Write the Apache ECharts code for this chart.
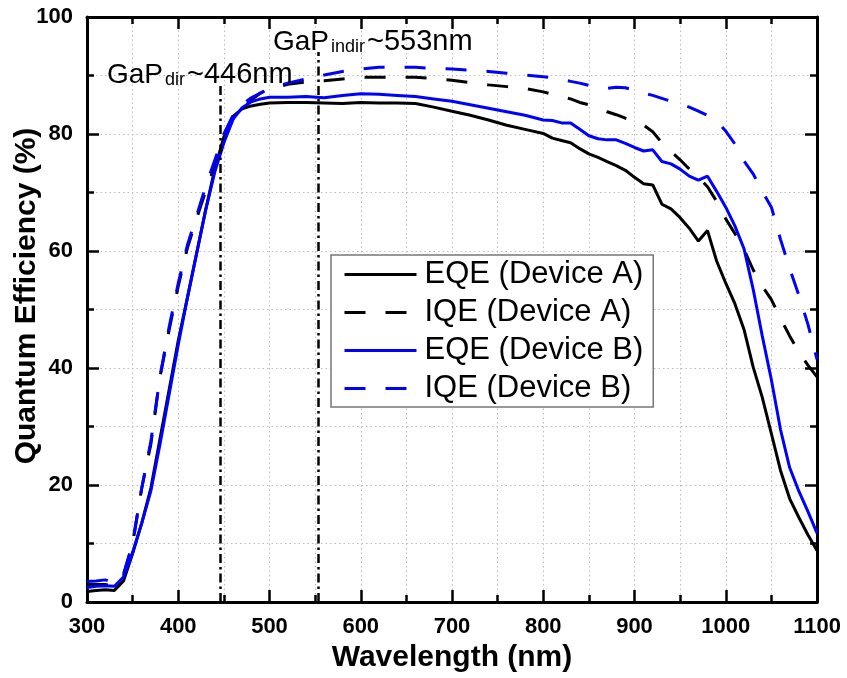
<!DOCTYPE html>
<html>
<head>
<meta charset="utf-8">
<script src="https://cdn.jsdelivr.net/npm/echarts@6/dist/echarts.min.js"></script>
<style>
  html, body { margin: 0; padding: 0; background: #fff; }
  #chart { width: 847px; height: 678px; }
</style>
</head>
<body>
<div id="chart"></div>
<script>
// Wavelength grid (nm)
const wavelength = [
  300,310,320,330,340,350,360,370,380,390,400,410,420,430,440,450,460,470,480,490,500,
  520,540,560,580,600,620,640,660,680,700,720,740,760,780,800,
  810,820,830,840,850,860,870,880,890,900,910,920,930,940,950,960,970,980,990,1000,
  1010,1020,1030,1040,1050,1060,1070,1080,1090,1100
];

// Quantum efficiency (%) for each device
const eqeDeviceA = [
  1.8,2.0,2.1,2.0,3.6,8.3,13.5,19.5,27.9,36.3,44.7,52.0,59.5,67.0,74.0,79.5,83.0,84.3,84.8,85.1,85.3,
  85.4,85.4,85.3,85.2,85.4,85.3,85.3,85.2,84.6,83.9,83.2,82.4,81.5,80.8,80.1,
  79.3,78.9,78.5,77.5,76.6,76.0,75.3,74.6,73.8,72.6,71.5,71.3,68.0,67.2,65.7,63.9,61.7,63.5,58.3,54.5,
  51.0,46.6,40.2,35.0,28.8,22.5,17.7,14.5,11.5,8.8
];
const iqeDeviceA = [
  3.0,3.0,3.0,2.8,4.5,10.0,19.5,27.0,38.5,46.5,54.0,60.5,65.5,70.2,74.6,79.2,82.6,84.3,85.8,87.0,87.7,
  88.5,88.9,89.1,89.4,89.7,89.7,89.7,89.7,89.5,89.2,88.8,88.4,88.1,87.8,87.2,
  86.8,86.4,86.0,85.4,85.0,84.4,83.8,83.3,82.7,82.2,81.5,80.4,78.5,77.0,75.6,74.0,72.6,71.0,68.5,65.5,
  63.0,60.3,56.8,54.0,51.7,48.5,45.5,42.8,40.5,38.5
];
const eqeDeviceB = [
  2.5,2.7,2.8,2.7,4.3,8.5,13.5,19.0,27.0,35.5,44.0,52.0,59.5,67.0,73.5,78.5,82.5,84.5,85.5,86.0,86.3,
  86.3,86.4,86.2,86.6,86.9,86.8,86.6,86.4,86.0,85.6,85.0,84.4,83.8,83.2,82.4,
  82.3,81.9,81.9,80.8,79.7,79.2,79.0,79.0,78.4,77.7,77.1,77.3,75.3,74.9,74.0,72.8,72.1,72.8,70.2,67.5,
  64.3,60.4,53.5,45.5,38.0,29.5,23.0,19.0,15.5,11.8
];
const iqeDeviceB = [
  3.5,3.6,3.8,3.3,4.8,10.0,19.5,27.5,38.5,47.0,54.5,61.0,66.0,71.0,75.5,80.0,83.2,85.0,86.2,87.0,87.8,
  88.7,89.4,90.1,90.7,91.1,91.4,91.4,91.4,91.2,91.1,90.9,90.7,90.4,90.1,89.8,
  89.6,89.3,89.0,88.7,88.3,88.0,87.8,88.0,87.9,87.5,87.0,86.6,86.1,85.6,85.2,84.6,83.9,83.2,82.2,80.5,
  78.3,75.4,73.2,70.2,67.5,62.0,57.0,52.5,47.5,41.5
];

// GaP band-gap markers: wavelength (nm) and top of the marker line (%)
const gapWavelengths = [446, 553];
const gapLineTops = [88.5, 94];

const seriesNames = ['EQE (Device A)', 'IQE (Device A)', 'EQE (Device B)', 'IQE (Device B)'];

const FONT = '"Liberation Sans", Arial, Helvetica, sans-serif';
const pairs = v => wavelength.map((w, i) => [w, v[i]]);

const chart = echarts.init(document.getElementById('chart'), null, { renderer: 'canvas' });

const gridLine = { show: true, lineStyle: { color: '#bdbdbd', type: [1.5, 3], width: 1 } };
const axisFrame = { show: true, onZero: false, lineStyle: { color: '#000', width: 3 } };
const majorTick = { show: true, inside: true, length: 12, lineStyle: { color: '#000', width: 2.5 } };
const minorTick = { show: true, splitNumber: 2, length: 7, lineStyle: { color: '#000', width: 2.5 } };
const tickLabel = {
  color: '#000', fontSize: 22, fontWeight: 'bold', fontFamily: FONT, margin: 14,
  formatter: v => String(v)
};

function lineSeries(name, data, color, dashed) {
  return {
    name, type: 'line', data: pairs(data),
    showSymbol: false, symbol: 'none', smooth: false,
    lineStyle: { color, width: 3, type: dashed ? [21, 20] : 'solid' },
    itemStyle: { color },
    emphasis: { disabled: true },
    z: 3
  };
}

const markLines = gapWavelengths.map((w, i) => [
  { coord: [w, 0] }, { coord: [w, gapLineTops[i]] }
]);

const sA = lineSeries(seriesNames[0], eqeDeviceA, '#000000', false);
sA.markLine = {
  silent: true, symbol: 'none', animation: false,
  label: { show: false },
  lineStyle: { color: '#000', width: 2.5, type: [9, 4, 2.5, 4] },
  data: markLines
};

const subRich = {
  a: { fontSize: 28, fontFamily: FONT, color: '#000', lineHeight: 34, verticalAlign: 'bottom' },
  n: { fontSize: 29, fontFamily: FONT, color: '#000', lineHeight: 34, verticalAlign: 'bottom' },
  b: { fontSize: 18, fontFamily: FONT, color: '#000', lineHeight: 10, verticalAlign: 'bottom', padding: [0, 2, 0, 2] }
};

const option = {
  animation: false,
  backgroundColor: '#ffffff',
  grid: { left: 87, right: 30, top: 17, bottom: 71 },
  xAxis: [
    {
      type: 'value', min: 300, max: 1100, interval: 100,
      axisLine: axisFrame, axisTick: majorTick, minorTick: minorTick,
      splitLine: gridLine, minorSplitLine: gridLine,
      axisLabel: tickLabel,
      name: 'Wavelength (nm)', nameLocation: 'middle', nameGap: 40,
      nameTextStyle: { color: '#000', fontSize: 30, fontWeight: 'bold', fontFamily: FONT }
    },
    {
      type: 'value', position: 'top', min: 300, max: 1100, interval: 100,
      axisLine: axisFrame, axisTick: majorTick, minorTick: minorTick,
      splitLine: { show: false }, axisLabel: { show: false }
    }
  ],
  yAxis: [
    {
      type: 'value', min: 0, max: 100, interval: 20,
      axisLine: axisFrame, axisTick: majorTick, minorTick: minorTick,
      splitLine: gridLine, minorSplitLine: gridLine,
      axisLabel: tickLabel
    },
    {
      type: 'value', position: 'right', min: 0, max: 100, interval: 20,
      axisLine: axisFrame, axisTick: majorTick, minorTick: minorTick,
      splitLine: { show: false }, axisLabel: { show: false }
    }
  ],
  legend: {
    data: seriesNames,
    orient: 'vertical', left: 331, top: 255,
    backgroundColor: '#ffffff',
    borderColor: '#777', borderWidth: 1.5, borderRadius: 0,
    padding: [4, 10, 3, 12],
    itemWidth: 72, itemHeight: 29, itemGap: 7,
    itemStyle: { color: 'transparent', borderWidth: 0, opacity: 0 },
    lineStyle: { width: 3 },
    textStyle: { color: '#000', fontSize: 31, lineHeight: 29, fontFamily: FONT, padding: [0, 0, 0, 3] },
    selectedMode: false,
    z: 10
  },
  graphic: [
    {
      type: 'text', z: 10,
      rotation: Math.PI / 2,
      x: 27, y: 296,
      style: {
        text: 'Quantum Efficiency (%)',
        fill: '#000', font: 'bold 30px ' + FONT,
        textAlign: 'center', textVerticalAlign: 'middle'
      }
    },
    {
      type: 'text', x: 107, y: 55, z: 10,
      style: { text: '{a|GaP}{b|dir}{n|~446nm}', rich: subRich }
    },
    {
      type: 'text', x: 273, y: 22, z: 10,
      style: { text: '{a|GaP}{b|indir}{n|~553nm}', rich: subRich }
    }
  ],
  series: [
    sA,
    lineSeries(seriesNames[1], iqeDeviceA, '#000000', true),
    lineSeries(seriesNames[2], eqeDeviceB, '#0000ff', false),
    lineSeries(seriesNames[3], iqeDeviceB, '#0000ff', true)
  ]
};

chart.setOption(option);
</script>
</body>
</html>
